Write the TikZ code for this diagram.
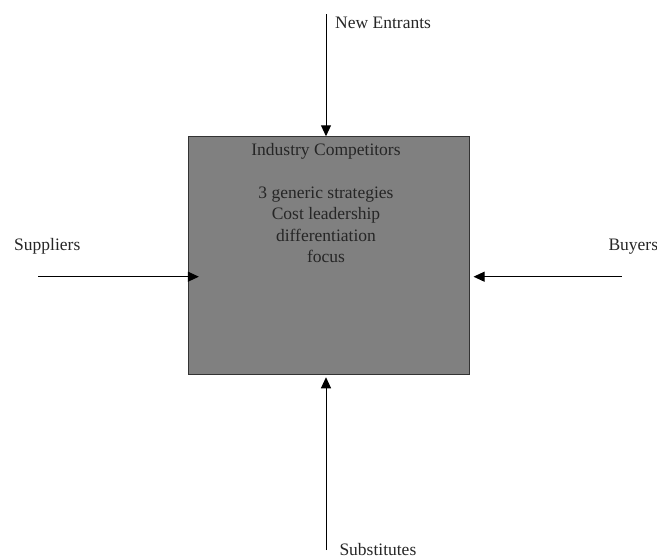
\documentclass[tikz,border=0pt]{standalone}
\usepackage{fontspec}
\setmainfont{Liberation Serif}
\usetikzlibrary{arrows.meta}
\begin{document}
\begin{tikzpicture}[x=1pt,y=-1pt,
  lbl/.style={font=\fontsize{17.5}{21.5}\selectfont, inner sep=0pt, text=black!85},
  force/.style={draw=black, line width=1pt, -{Triangle[length=11pt,width=10pt]}},
  compbox/.style={draw=black!80, fill={rgb,255:red,128;green,128;blue,128}, line width=1pt, minimum width=280.7pt, minimum height=237.3pt, inner sep=0pt}]
\useasboundingbox (0,0) rectangle (657,558);
\node[compbox] (box) at (328.7,255.4) {};
\node[lbl, align=center, anchor=north] (boxtext) at (326,143) {Industry Competitors\\[21.5pt]3 generic strategies\\Cost leadership\\differentiation\\focus};
\node[lbl, anchor=west] (ne) at (335,23) {New Entrants};
\node[lbl, anchor=west] (sup) at (14,246.7) {Suppliers};
\node[lbl, anchor=west] (buy) at (608.3,246.7) {Buyers};
\node[lbl, anchor=west] (sub) at (339.3,549.5) {Substitutes};
\coordinate (ntop) at (326,14);
\coordinate (nleft) at (38.3,276.7);
\coordinate (nright) at (621.7,276.7);
\coordinate (nbot) at (326,550);
\draw[force] (ntop) -- (ntop |- box.north);
\draw[force] (nleft) -- ([xshift=11pt]nleft -| box.west);
\draw[force] (nright) -- ([xshift=4pt]nright -| box.east);
\draw[force] (nbot) -- ([yshift=-2.7pt]nbot |- box.south);
\end{tikzpicture}
\end{document}
